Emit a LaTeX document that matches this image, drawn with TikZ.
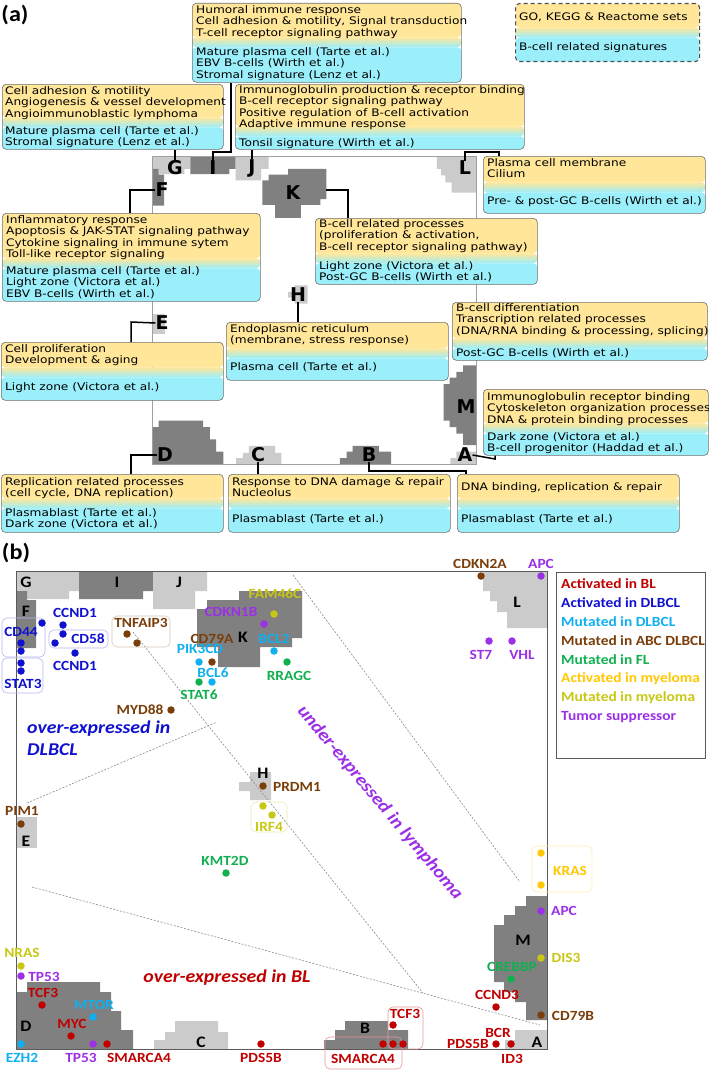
\documentclass[tikz,border=0pt]{standalone}
\usepackage{fontspec}
\setmainfont{DejaVu Sans}
\newfontfamily\boxfont[FakeStretch=1.17]{DejaVu Sans}
\newfontfamily\calfont[FakeStretch=1.1]{Carlito}
\usetikzlibrary{positioning}

\definecolor{ybox}{HTML}{FFE699}
\definecolor{cbox}{HTML}{9AEFFA}
\definecolor{boxline}{HTML}{6E6E6E}
\definecolor{legdash}{HTML}{505050}
\definecolor{regdark}{HTML}{808080}
\definecolor{reglight}{HTML}{CBCBCB}
\definecolor{framea}{HTML}{A0A0A0}
\definecolor{frameb}{HTML}{5A5A5A}
\definecolor{sepgray}{HTML}{8C8C8C}
\definecolor{actBL}{HTML}{C00000}
\definecolor{actDL}{HTML}{1010D0}
\definecolor{mutDL}{HTML}{10B0F0}
\definecolor{mutABC}{HTML}{7A3E0A}
\definecolor{mutFL}{HTML}{10B050}
\definecolor{actMM}{HTML}{FFC800}
\definecolor{mutMM}{HTML}{C8C814}
\definecolor{tsup}{HTML}{9B30E6}

\tikzset{
  infobox/.style={draw=boxline, line width=0.6pt, rounded corners=4pt, inner sep=0pt, anchor=north west,
    path picture={
      \fill[ybox] (path picture bounding box.north west) rectangle ([yshift=5pt-#1]path picture bounding box.north east);
      \shade[top color=ybox, middle color=white, bottom color=cbox] ([yshift=5pt-#1]path picture bounding box.north west) rectangle ([yshift=-5pt-#1]path picture bounding box.north east);
      \fill[cbox] ([yshift=-5pt-#1]path picture bounding box.north west) rectangle (path picture bounding box.south east);
    }},
  ytxt/.style={font=\boxfont\fontsize{10.4}{11.3}\selectfont, align=left, inner sep=0pt, anchor=north west},
  reglabA/.style={font=\bfseries\fontsize{19}{19}\selectfont, inner sep=0pt},
  reglabB/.style={font=\calfont\bfseries\fontsize{16}{16}\selectfont, inner sep=0pt},
  conn/.style={line width=1.5pt},
  darkfill/.style={fill=regdark},
  lightfill/.style={fill=reglight},
  gene/.style={font=\calfont\bfseries\fontsize{14}{14}\selectfont, inner sep=0pt},
  gdot/.style={circle, inner sep=0pt, minimum size=7.5pt},
  sep/.style={draw=sepgray, line width=0.6pt, dash pattern=on 2pt off 1.5pt},
  grp/.style={draw=#1, line width=0.6pt, rounded corners=5pt},
  zone/.style={font=\calfont\bfseries\itshape\fontsize{18}{22}\selectfont, inner sep=0pt},
  legtxt/.style={font=\calfont\bfseries\fontsize{14}{14}\selectfont, inner sep=0pt, anchor=west}
}

% map regions, in the pixel frame of panel (b)
\newcommand{\somregions}{
  \fill[lightfill] (16,571) -- (79,571) -- (79,591) -- (69,591) -- (69,599) -- (27,599) -- (27,591) -- (16,591) -- cycle; % G
  \fill[darkfill] (16,591) -- (27,591) -- (27,600) -- (36,600) -- (36,648) -- (16,648) -- cycle; % F
  \fill[darkfill] (79,571) -- (153,571) -- (153,591) -- (143,591) -- (143,599) -- (79,599) -- cycle; % I
  \fill[lightfill] (153,571) -- (207,571) -- (207,591) -- (195,591) -- (195,609) -- (153,609) -- cycle; % J
  \fill[darkfill] (239,591) -- (302,591) -- (302,638) -- (292,638) -- (292,647) -- (260,647) -- (260,667)
    -- (218,667) -- (218,647) -- (197,647) -- (197,609) -- (207,609) -- (207,600) -- (239,600) -- cycle; % K
  \fill[lightfill] (483,571) -- (547,571) -- (547,628) -- (507,628) -- (507,612) -- (497,612) -- (497,601)
    -- (490,601) -- (490,591) -- (483,591) -- cycle; % L
  \fill[lightfill] (250,772) -- (271,772) -- (271,800) -- (250,800) -- (250,791) -- (239,791) -- (239,782) -- (250,782) -- cycle; % H
  \fill[lightfill] (16,817) rectangle (37,848); % E
  \fill[darkfill] (16,1049) -- (16,992) -- (27,992) -- (27,982) -- (100,982) -- (100,992) -- (111,992) -- (111,1011)
    -- (121,1011) -- (121,1030) -- (133,1030) -- (133,1049) -- cycle; % D
  \fill[lightfill] (154,1049) -- (154,1040) -- (165,1040) -- (165,1032) -- (175,1032) -- (175,1021) -- (218,1021)
    -- (218,1032) -- (228,1032) -- (228,1049) -- cycle; % C
  \fill[darkfill] (324,1049) -- (324,1040) -- (335,1040) -- (335,1030) -- (345,1030) -- (345,1021) -- (388,1021)
    -- (388,1030) -- (408,1030) -- (408,1049) -- cycle; % B
  \fill[lightfill] (505,1049) -- (505,1040) -- (515,1040) -- (515,1030) -- (547,1030) -- (547,1049) -- cycle; % A
  \fill[darkfill] (547,896) -- (526,896) -- (526,906) -- (515,906) -- (515,915) -- (504,915) -- (504,925) -- (494,925)
    -- (494,982) -- (504,982) -- (504,992) -- (515,992) -- (515,1002) -- (526,1002) -- (526,1020) -- (547,1020) -- cycle; % M
}

\newcommand{\gene}[5]{\node[gene, text=#2] (#1) at (#3,#4) {#5};}

\begin{document}
\begin{tikzpicture}[x=1pt, y=-1pt]
  \fill[white] (0,0) rectangle (709,1073);
  \useasboundingbox (0,0) rectangle (709,1073);

  %% ---------------- panel (a)
  \node[font=\calfont\bfseries\fontsize{22}{22}\selectfont, inner sep=0pt] (pa) at (15,15) {(a)};
  \begin{scope}[shift={(142.24,-211.7)}, xscale=0.610, yscale=0.644]
    \somregions
  \end{scope}
  \draw[framea, line width=0.8pt] (152,156) rectangle (476,464);

  \node[reglabA] (lG) at (175,168) {G};
  \node[reglabA] (lI) at (213,168) {I};
  \node[reglabA] (lJ) at (252,168) {J};
  \node[reglabA] (lF) at (162,190) {F};
  \node[reglabA] (lK) at (293,193) {K};
  \node[reglabA] (lL) at (465,168) {L};
  \node[reglabA] (lH) at (298,295) {H};
  \node[reglabA] (lE) at (162,323) {E};
  \node[reglabA] (lM) at (466,407) {M};
  \node[reglabA] (lD) at (165,455) {D};
  \node[reglabA] (lC) at (258,455) {C};
  \node[reglabA] (lB) at (369,455) {B};
  \node[reglabA] (lA) at (465,455) {A};

  % boxes
  \node[infobox=39pt, minimum width=269pt, minimum height=79pt] (bI) at (192,3) {};
  \node[infobox=29pt, draw=legdash, line width=1.1pt, dash pattern=on 4pt off 3pt, minimum width=184pt, minimum height=58pt] (bLeg) at (515,3) {};
  \node[infobox=38pt, minimum width=221pt, minimum height=65pt] (bG) at (2,84) {};
  \node[infobox=47pt, minimum width=289pt, minimum height=65pt] (bJ) at (235,84) {};
  \node[infobox=31pt, minimum width=222pt, minimum height=57pt] (bL) at (483,156) {};
  \node[infobox=40pt, minimum width=222pt, minimum height=66pt] (bK) at (315,218) {};
  \node[infobox=50pt, minimum width=258pt, minimum height=88pt] (bF) at (2,213) {};
  \node[infobox=30pt, minimum width=222pt, minimum height=58pt] (bE) at (1,342) {};
  \node[infobox=31pt, minimum width=222pt, minimum height=58pt] (bH) at (226,322) {};
  \node[infobox=41pt, minimum width=255pt, minimum height=58pt] (bM) at (452,302) {};
  \node[infobox=39pt, minimum width=225pt, minimum height=66pt] (bA) at (483,389) {};
  \node[infobox=29pt, minimum width=222pt, minimum height=58pt] (bD) at (1,474) {};
  \node[infobox=29pt, minimum width=222pt, minimum height=58pt] (bC) at (228,474) {};
  \node[infobox=29pt, minimum width=222pt, minimum height=58pt] (bB) at (457,474) {};

  \node[ytxt] (tIy) at (196,5.5) {Humoral immune response\\Cell adhesion \& motility, Signal transduction\\T-cell receptor signaling pathway};
  \node[ytxt] (tIc) at (196,47.5) {Mature plasma cell (Tarte et al.)\\EBV B-cells (Wirth et al.)\\Stromal signature (Lenz et al.)};
  \node[ytxt] (tLegy) at (519,12.5) {GO, KEGG \& Reactome sets};
  \node[ytxt] (tLegc) at (519,42.5) {B-cell related signatures};
  \node[ytxt] (tGy) at (5,86.5) {Cell adhesion \& motility\\Angiogenesis \& vessel development\\Angioimmunoblastic lymphoma};
  \node[ytxt] (tGc) at (5,126.5) {Mature plasma cell (Tarte et al.)\\Stromal signature (Lenz et al.)};
  \node[ytxt] (tJy) at (239,85.5) {Immunoglobulin production \& receptor binding\\B-cell receptor signaling pathway\\Positive regulation of B-cell activation\\Adaptive immune response};
  \node[ytxt] (tJc) at (239,138.5) {Tonsil signature (Wirth et al.)};
  \node[ytxt] (tLy) at (487,158.5) {Plasma cell membrane\\Cilium};
  \node[ytxt] (tLc) at (487,196.5) {Pre- \& post-GC B-cells (Wirth et al.)};
  \node[ytxt] (tKy) at (319,219.5) {B-cell related processes\\(proliferation \& activation,\\B-cell receptor signaling pathway)};
  \node[ytxt] (tKc) at (319,261.5) {Light zone (Victora et al.)\\Post-GC B-cells (Wirth et al.)};
  \node[ytxt] (tFy) at (6,215.5) {Inflammatory response\\Apoptosis \& JAK-STAT signaling pathway\\Cytokine signaling in immune sytem\\Toll-like receptor signaling};
  \node[ytxt] (tFc) at (6,266.5) {Mature plasma cell (Tarte et al.)\\Light zone (Victora et al.)\\EBV B-cells (Wirth et al.)};
  \node[ytxt] (tEy) at (5,344.5) {Cell proliferation\\Development \& aging};
  \node[ytxt] (tEc) at (5,382.5) {Light zone (Victora et al.)};
  \node[ytxt] (tHy) at (230,324.5) {Endoplasmic reticulum\\(membrane, stress response)};
  \node[ytxt] (tHc) at (230,362.5) {Plasma cell (Tarte et al.)};
  \node[ytxt] (tMy) at (456,303.5) {B-cell differentiation\\Transcription related processes\\(DNA/RNA binding \& processing, splicing)};
  \node[ytxt] (tMc) at (456,348.5) {Post-GC B-cells (Wirth et al.)};
  \node[ytxt] (tAy) at (487,392.5) {Immunoglobulin receptor binding\\Cytoskeleton organization processes\\DNA \& protein binding processes};
  \node[ytxt] (tAc) at (487,432.5) {Dark zone (Victora et al.)\\B-cell progenitor (Haddad et al.)};
  \node[ytxt] (tDy) at (5,477.5) {Replication related processes\\(cell cycle, DNA replication)};
  \node[ytxt] (tDc) at (5,508.5) {Plasmablast (Tarte et al.)\\Dark zone (Victora et al.)};
  \node[ytxt] (tCy) at (232,477.5) {Response to DNA damage \& repair\\Nucleolus};
  \node[ytxt] (tCc) at (232,514.5) {Plasmablast (Tarte et al.)};
  \node[ytxt] (tBy) at (461,482.5) {DNA binding, replication \& repair};
  \node[ytxt] (tBc) at (461,514.5) {Plasmablast (Tarte et al.)};

  % connectors
  \coordinate (cI) at (231,152);
  \coordinate (cL) at (499,152);
  \coordinate (kK) at (326,190);
  \coordinate (cK) at (348,190);
  \coordinate (cF) at (130,190);
  \coordinate (cE) at (131,322);
  \coordinate (cD) at (131,455);
  \coordinate (cB) at (466,471);
  \coordinate (cA) at (495,459);
  \draw[conn] (lI.north) |- (cI) -- (cI |- bI.south);
  \draw[conn] (lG.north) -- (lG.north |- bG.south);
  \draw[conn] (lJ.north) -- (lJ.north |- bJ.south);
  \draw[conn] (lL.north) |- (cL) -- (cL |- bL.north);
  \draw[conn] (kK) -- (cK) -- (cK |- bK.north);
  \draw[conn] (lF.west) -- (cF) -- (cF |- bF.north);
  \draw[conn] (lH.south) -- (lH.south |- bH.north);
  \draw[conn] (lE.west) -- (cE) -- (cE |- bE.north);
  \draw[conn] (lD.west) -- (cD) -- (cD |- bD.north);
  \draw[conn] (lC.south) -- (lC.south |- bC.north);
  \draw[conn] (lB.south) |- (cB) -- (cB |- bB.north);
  \draw[conn] (lA.east) -- (cA) -- (cA |- bA.south);

  %% ---------------- panel (b)
  \node[font=\calfont\bfseries\fontsize{22}{22}\selectfont, inner sep=0pt] (pb) at (16,553) {(b)};
  \somregions
  \coordinate (s1a) at (293,575); \coordinate (s1b) at (520,882);
  \coordinate (s2a) at (133,632); \coordinate (s2b) at (423,993);
  \coordinate (s3a) at (32,887);  \coordinate (s3b) at (540,1025);
  \coordinate (s4a) at (27,803);  \coordinate (s4b) at (217,722);
  \draw[sep] (s1a) -- (s1b);
  \draw[sep] (s2a) -- (s2b);
  \draw[sep] (s3a) -- (s3b);
  \draw[sep] (s4a) -- (s4b);
  \draw[frameb, line width=1pt] (16,571) rectangle (547,1049);

  \node[reglabB] (mG) at (26,582) {G};
  \node[reglabB] (mI) at (117,582) {I};
  \node[reglabB] (mJ) at (179,582) {J};
  \node[reglabB] (mF) at (26,611) {F};
  \node[reglabB] (mK) at (243,637) {K};
  \node[reglabB] (mL) at (517,602) {L};
  \node[reglabB] (mH) at (263,773) {H};
  \node[reglabB] (mE) at (26,841) {E};
  \node[reglabB] (mD) at (26,1026) {D};
  \node[reglabB] (mC) at (201,1042) {C};
  \node[reglabB] (mB) at (365,1028) {B};
  \node[reglabB] (mM) at (523,940) {M};
  \node[reglabB] (mA) at (537,1042) {A};

  % gene groups
  \draw[grp=actDL!30] (2,618) rectangle (45,657);
  \draw[grp=actDL!30] (2,658) rectangle (43,693);
  \draw[grp=actDL!30] (49,630) rectangle (108,648);
  \draw[grp=mutABC!30] (112,616) rectangle (170,647);
  \draw[grp=mutMM!35] (251,802) rectangle (287,832);
  \draw[grp=actMM!30] (532,846) rectangle (592,892);
  \draw[grp=actBL!40] (388,1007) rectangle (423,1049);
  \draw[grp=actBL!40] (325,1037) rectangle (402,1069);

  % dots
  \foreach \x/\y [count=\i] in {42/623, 63/625, 63/634, 55/643, 75/653, 21/643, 21/651, 21/663, 21/671}
    \node[gdot, fill=actDL] (dDL\i) at (\x,\y) {};
  \foreach \x/\y [count=\i] in {127/634, 137/643, 212/662, 171/710, 263/786, 21/824, 481/576, 541/1015}
    \node[gdot, fill=mutABC] (dABC\i) at (\x,\y) {};
  \foreach \x/\y [count=\i] in {274/614, 263/806, 272/815, 541/958, 21/966}
    \node[gdot, fill=mutMM] (dMM\i) at (\x,\y) {};
  \foreach \x/\y [count=\i] in {264/624, 541/576, 489/641, 512/641, 541/911, 21/976, 93/1044}
    \node[gdot, fill=tsup] (dTS\i) at (\x,\y) {};
  \foreach \x/\y [count=\i] in {274/651, 199/662, 212/682, 93/1017, 21/1044}
    \node[gdot, fill=mutDL] (dMD\i) at (\x,\y) {};
  \foreach \x/\y [count=\i] in {199/682, 287/662, 226/873, 511/979}
    \node[gdot, fill=mutFL] (dFL\i) at (\x,\y) {};
  \foreach \x/\y [count=\i] in {541/853, 541/885}
    \node[gdot, fill=actMM] (dAM\i) at (\x,\y) {};
  \foreach \x/\y [count=\i] in {496/1007, 496/1044, 511/1044, 393/1025, 383/1044, 393/1044, 403/1044, 261/1044, 107/1044, 71/1036, 42/1005}
    \node[gdot, fill=actBL] (dBL\i) at (\x,\y) {};

  % gene names
  \gene{gCCNDa}{actDL}{75}{613}{CCND1}
  \gene{gCD58}{actDL}{88}{639}{CD58}
  \gene{gCCNDb}{actDL}{75}{666}{CCND1}
  \gene{gCD44}{actDL}{21}{632}{CD44}
  \gene{gSTAT3}{actDL}{23}{684}{STAT3}
  \gene{gTNF}{mutABC}{141}{623}{TNFAIP3}
  \gene{gFAM}{mutMM}{275}{594}{FAM46C}
  \gene{gCDKNb}{tsup}{231}{612}{CDKN1B}
  \gene{gCD79A}{mutABC}{212}{639}{CD79A}
  \gene{gBCL2}{mutDL}{274}{639}{BCL2}
  \gene{gPIK}{mutDL}{200}{649}{PIK3CD}
  \gene{gBCL6}{mutDL}{213}{673}{BCL6}
  \gene{gSTAT6}{mutFL}{199}{695}{STAT6}
  \gene{gRRAGC}{mutFL}{289}{676}{RRAGC}
  \gene{gCDKNa}{mutABC}{480}{564}{CDKN2A}
  \gene{gAPCa}{tsup}{541}{564}{APC}
  \gene{gST7}{tsup}{481}{655}{ST7}
  \gene{gVHL}{tsup}{522}{655}{VHL}
  \gene{gMYD}{mutABC}{140}{710}{MYD88}
  \gene{gPRDM}{mutABC}{297}{787}{PRDM1}
  \gene{gIRF}{mutMM}{269}{827}{IRF4}
  \gene{gPIM}{mutABC}{22}{811}{PIM1}
  \gene{gKMT}{mutFL}{225}{861}{KMT2D}
  \gene{gKRAS}{actMM}{570}{871}{KRAS}
  \gene{gAPCb}{tsup}{564}{911}{APC}
  \gene{gDIS}{mutMM}{566}{958}{DIS3}
  \gene{gCREB}{mutFL}{512}{967}{CREBBP}
  \gene{gCCND3}{actBL}{497}{995}{CCND3}
  \gene{gCD79B}{mutABC}{573}{1016}{CD79B}
  \gene{gBCR}{actBL}{498}{1033}{BCR}
  \gene{gPDSa}{actBL}{468}{1044}{PDS5B}
  \gene{gID3}{actBL}{512}{1059}{ID3}
  \gene{gTCFa}{actBL}{405}{1014}{TCF3}
  \gene{gSMAa}{actBL}{363}{1059}{SMARCA4}
  \gene{gPDSb}{actBL}{261}{1058}{PDS5B}
  \gene{gSMAb}{actBL}{139}{1058}{SMARCA4}
  \gene{gTPa}{tsup}{81}{1058}{TP53}
  \gene{gEZH}{mutDL}{22}{1058}{EZH2}
  \gene{gMYC}{actBL}{72}{1024}{MYC}
  \gene{gMTOR}{mutDL}{94}{1005}{MTOR}
  \gene{gTCFb}{actBL}{43}{993}{TCF3}
  \gene{gTPb}{tsup}{44}{977}{TP53}
  \gene{gNRAS}{mutMM}{22}{953}{NRAS}

  % zones
  \node[zone, text=actDL, align=left, anchor=west] (zDL) at (27,738) {over-expressed in\\DLBCL};
  \node[zone, text=actBL] (zBL) at (227,978) {over-expressed in BL};
  \node[zone, text=tsup, rotate=-50] (zLy) at (380,803) {under-expressed in lymphoma};

  % legend
  \node[draw=frameb, line width=0.8pt, inner sep=0pt, anchor=north west, minimum width=149pt, minimum height=186pt] (leg) at (556,572) {};
  \foreach \c/\t [count=\i] in {actBL/Activated in BL, actDL/Activated in DLBCL, mutDL/Mutated in DLBCL,
      mutABC/Mutated in ABC DLBCL, mutFL/Mutated in FL, actMM/Activated in myeloma,
      mutMM/Mutated in myeloma, tsup/Tumor suppressor}
    \node[legtxt, text=\c] (leg\i) at (561,565+19*\i) {\t};
\end{tikzpicture}
\end{document}
